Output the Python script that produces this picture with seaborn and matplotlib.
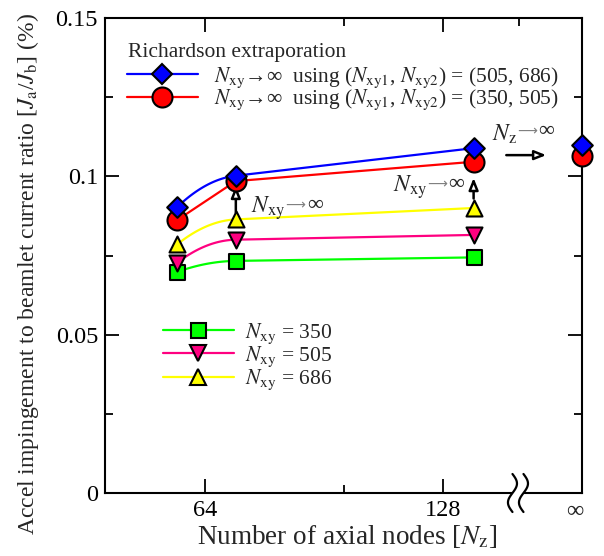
import numpy as np
import pandas as pd
import matplotlib
matplotlib.use("Agg")
import matplotlib.pyplot as plt
import seaborn as sns
from matplotlib.lines import Line2D
from matplotlib.patches import Rectangle
from matplotlib.ticker import FixedLocator, FixedFormatter, NullFormatter

# ---------------- data ----------------
nz = [59, 70, 140]
nxy350 = [0.0698, 0.0733, 0.0744]
nxy505 = [0.0727, 0.0800, 0.0815]
nxy686 = [0.0785, 0.0864, 0.0900]
rich_505_686 = [0.0903, 0.1002, 0.1089]
rich_350_505 = [0.0862, 0.0985, 0.1046]
rich_505_686_inf = 0.1100
rich_350_505_inf = 0.1065
xticks = [64, 128]
xtick_labels = ["64", "128"]
xminor = [96, 160]
yticks = [0, 0.05, 0.1, 0.15]
ytick_labels = ["0", "0.05", "0.1", "0.15"]
yminor = [0.025, 0.075, 0.125]
ylim = (0, 0.15)
xlim = (47.8, 192.0)

sns.set_style("ticks")
plt.rcParams["font.family"] = ["Liberation Serif", "DejaVu Serif"]
plt.rcParams["mathtext.fontset"] = "stix"

GREEN = "#00ff00"
PINK = "#ff0080"
YELLOW = "#ffff00"
RED = "#ff0000"
BLUE = "#0000ff"


def smooth_curve(x, y, n=120):
    """Drawing helper: quadratic bend (in log2 x) from point 1 to point 2 whose end slope
    matches the straight segment from point 2 to point 3."""
    u = np.log2(np.asarray(x, float))
    y = np.asarray(y, float)
    h1 = u[1] - u[0]
    d1 = (y[1] - y[0]) / h1
    d2 = (y[2] - y[1]) / (u[2] - u[1])
    s0 = 2 * d1 - d2
    k = (d2 - d1) / h1
    uu = np.linspace(u[0], u[1], n)
    yy = y[0] + s0 * (uu - u[0]) + k * (uu - u[0]) ** 2
    uu = np.append(uu, u[2])
    yy = np.append(yy, y[2])
    return 2 ** uu, yy


fig = plt.figure(figsize=(6.04, 5.56), dpi=100)
ax = fig.add_axes([0.1738, 0.1133, 0.7897, 0.8543])
ax.set_xscale("log", base=2)

series = [
    ("green", nxy350, GREEN, "s", 10.8, "curve"),
    ("pink", nxy505, PINK, "v", 11.5, "curve"),
    ("yellow", nxy686, YELLOW, "^", 11.5, "curve"),
    ("red", rich_350_505, RED, "o", 14.4, "linear"),
    ("blue", rich_505_686, BLUE, "D", 10.5, "curve"),
]

# lines
for name, vals, col, mk, ms, kind in series:
    if kind == "curve":
        xs, ys = smooth_curve(nz, vals)
    else:
        xs, ys = np.asarray(nz, float), np.asarray(vals, float)
    df = pd.DataFrame({"x": xs, "y": ys})
    sns.lineplot(data=df, x="x", y="y", ax=ax, color=col, lw=1.6, sort=False,
                 estimator=None, zorder=2)

# markers
for name, vals, col, mk, ms, kind in series:
    df = pd.DataFrame({"x": nz, "y": vals})
    sns.scatterplot(data=df, x="x", y="y", ax=ax, marker=mk, s=ms ** 2, color=col,
                    edgecolor="black", linewidth=1.5, zorder=5)

# infinity points on right spine
df_inf_r = pd.DataFrame({"x": [xlim[1]], "y": [rich_350_505_inf]})
sns.scatterplot(data=df_inf_r, x="x", y="y", ax=ax, marker="o", s=14.4 ** 2, color=RED,
                edgecolor="black", linewidth=1.5, zorder=6)
ax.collections[-1].set_clip_on(False)
df_inf_b = pd.DataFrame({"x": [xlim[1]], "y": [rich_505_686_inf]})
sns.scatterplot(data=df_inf_b, x="x", y="y", ax=ax, marker="D", s=10.5 ** 2, color=BLUE,
                edgecolor="black", linewidth=1.5, zorder=7)
ax.collections[-1].set_clip_on(False)

ax.set_xlim(*xlim)
ax.set_ylim(*ylim)

# ticks
ax.xaxis.set_major_locator(FixedLocator(xticks))
ax.xaxis.set_major_formatter(FixedFormatter(xtick_labels))
ax.xaxis.set_minor_locator(FixedLocator(xminor))
ax.xaxis.set_minor_formatter(NullFormatter())
ax.yaxis.set_major_locator(FixedLocator(yticks))
ax.yaxis.set_major_formatter(FixedFormatter(ytick_labels))
ax.yaxis.set_minor_locator(FixedLocator(yminor))
ax.tick_params(which="both", direction="in", top=True, right=True, width=1.3,
               labelsize=17.5, colors="black")
ax.tick_params(which="major", length=10, pad=5)
ax.tick_params(which="minor", length=6)
for lab in ax.get_xticklabels() + ax.get_yticklabels():
    lab.set_fontfamily(["Liberation Serif", "DejaVu Serif"])
for s in ax.spines.values():
    s.set_linewidth(1.5)
    s.set_color("black")

ax.set_xlabel(r"Number of axial nodes [$N_{\mathrm{z}}$]", fontsize=19.5)
ax.xaxis.set_label_coords(0.507, -0.064)
ax.set_ylabel(r"Accel impingement to beamlet current ratio [$J_{\mathrm{a}}$/$J_{\mathrm{b}}$] (%)",
              fontsize=17)
ax.yaxis.set_label_coords(-0.134, 0.461)

# infinity tick label
ax.annotate("∞", xy=(1, 0), xycoords="axes fraction", xytext=(-5, -6),
            textcoords="offset points", ha="center", va="top", fontsize=17.5)

# axis break symbol on bottom spine
fig.canvas.draw()
trans = ax.transAxes
pxx = 1.0 / (ax.bbox.width)
pxy = 1.0 / (ax.bbox.height)
t = np.linspace(0, 1, 100)
yy = (-19 + 38 * t) * pxy
for xc in (512.5, 523.5):
    xa = (xc - 105) * pxx
    xx = xa - 4.5 * pxx * np.sin(2 * np.pi * t)
    ax.plot(xx, yy, transform=trans, color="black", lw=1.6, clip_on=False, zorder=10)
ax.add_patch(Rectangle(((512.5 - 105) * pxx, -4 * pxy), 11 * pxx, 12 * pxy, transform=trans,
                       facecolor="white", edgecolor="none", clip_on=False, zorder=9))

# arrows
arrow_kw = dict(arrowstyle="-|>,head_length=0.7,head_width=0.28", color="black", lw=1.8,
                shrinkA=0, shrinkB=0)
ax.annotate("", xy=(70, 0.0970), xytext=(70, 0.0886), arrowprops=dict(arrow_kw, fc="white"), zorder=4)
ax.annotate("", xy=(140, 0.0995), xytext=(140, 0.0930), arrowprops=dict(arrow_kw, fc="white"), zorder=4)
ax.annotate("", xy=(173, 0.1067), xytext=(154, 0.1067), arrowprops=dict(arrow_kw, fc="white"), zorder=4)


def arrow_label(x, y, sub):
    t1 = ax.text(x, y, r"$N_{\mathrm{%s}}$" % sub, fontsize=17, va="baseline", ha="left")
    t2 = ax.annotate("⟶", xy=(1, 0.6), xycoords=t1, xytext=(0, 0), textcoords="offset points",
                     va="center", ha="left", fontsize=10, color="#808080",
                     family=["DejaVu Sans"])
    ax.annotate("∞", xy=(1, 0.5), xycoords=t2, xytext=(1, 0), textcoords="offset points",
                va="center", ha="left", fontsize=16)


arrow_label(73.2, 0.0885, "xy")
arrow_label(110.7, 0.0951, "xy")
arrow_label(147.8, 0.1113, "z")


# legends
def handle(col, mk, ms):
    return Line2D([], [], color=col, lw=1.6, marker=mk, ms=ms, mfc=col, mec="black", mew=1.5)


ax.text(0.048, 0.927, "Richardson extraporation", transform=ax.transAxes, fontsize=15.5,
        ha="left", va="center")
leg1 = ax.legend(
    [handle(BLUE, "D", 10.5), handle(RED, "o", 14.4)],
    [r"$N_{\mathrm{xy}}$→∞  using ($N_{\mathrm{xy1}}$, $N_{\mathrm{xy2}}$) = (505, 686)",
     r"$N_{\mathrm{xy}}$→∞  using ($N_{\mathrm{xy1}}$, $N_{\mathrm{xy2}}$) = (350, 505)"],
    loc="center left", bbox_to_anchor=(0.046, 0.851),
    frameon=False, fontsize=15.5, handlelength=3.3, handletextpad=0.75,
    labelspacing=-0.1, borderaxespad=0, borderpad=0)
ax.add_artist(leg1)

ax.legend(
    [handle(GREEN, "s", 10.8), handle(PINK, "v", 11.5), handle(YELLOW, "^", 11.5)],
    [r"$N_{\mathrm{xy}}$ = 350", r"$N_{\mathrm{xy}}$ = 505", r"$N_{\mathrm{xy}}$ = 686"],
    loc="center left", bbox_to_anchor=(0.1216, 0.287), frameon=False, fontsize=15.5,
    handlelength=3.3, handletextpad=0.5, labelspacing=-0.05, borderaxespad=0, borderpad=0)

fig.savefig("out.png", dpi=100)
